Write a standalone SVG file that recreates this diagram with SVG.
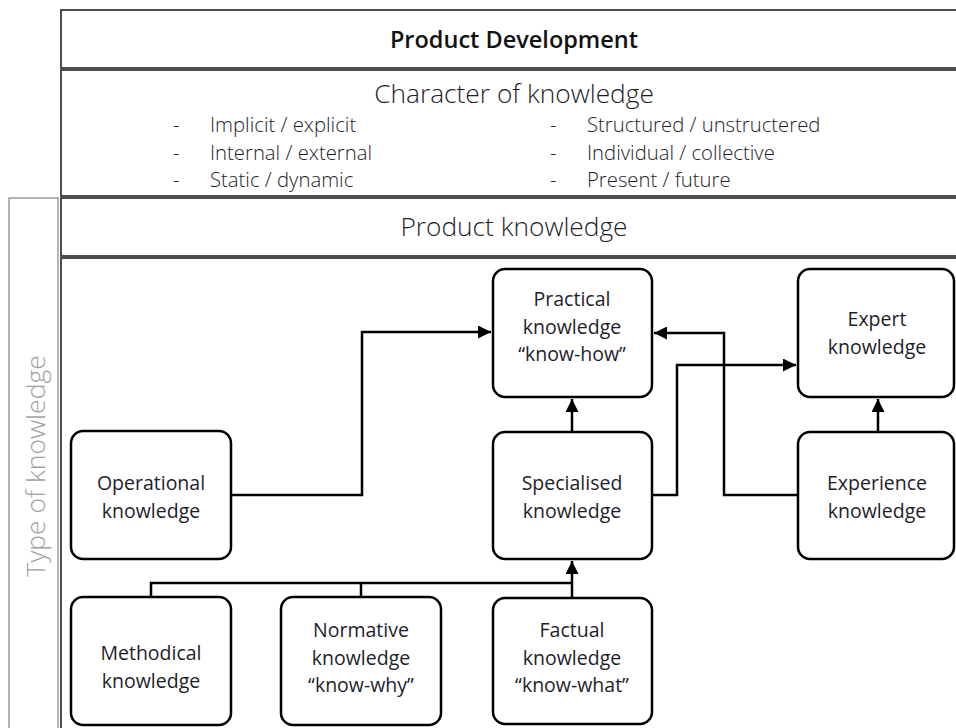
<svg xmlns="http://www.w3.org/2000/svg" width="956" height="728" viewBox="0 0 956 728">
<style>
.panel{fill:#fff;stroke:#3a3a3a;stroke-width:1.8}
.side{fill:#fff;stroke:#9a9a9a;stroke-width:1.5}
.node rect{fill:#fff;stroke:#000;stroke-width:2.5}
.t{font-family:"Open Sans","Liberation Sans",sans-serif;font-weight:300;fill:#1e1e2a}
.n{font-size:19.5px;font-weight:400;text-anchor:middle}
.c{font-size:20.3px}
.conn path{fill:none;stroke:#000;stroke-width:2.5}
</style>
<defs>
<marker id="ah" viewBox="0 0 10 10" refX="10" refY="5" markerWidth="5.2" markerHeight="5.2" markerUnits="strokeWidth" orient="auto">
<path d="M0,0 L10,5 L0,10 Z" fill="#000"/>
</marker>
</defs>
<rect width="956" height="728" fill="#fff"/>

<g id="header">
<rect class="panel" x="61" y="10" width="905" height="58"/>
<text class="t" x="514" y="48" font-size="23.5" text-anchor="middle" style="font-weight:600;fill:#111">Product Development</text>
</g>

<g id="character">
<rect class="panel" x="61" y="70" width="905" height="126"/>
<text class="t" x="514" y="103" font-size="26.3" text-anchor="middle">Character of knowledge</text>
<g class="t c">
<text x="173" y="132">-</text><text x="210" y="132">Implicit / explicit</text>
<text x="173" y="160">-</text><text x="210" y="160">Internal / external</text>
<text x="173" y="187">-</text><text x="210" y="187">Static / dynamic</text>
<text x="550" y="132">-</text><text x="587" y="132">Structured / unstructered</text>
<text x="550" y="160">-</text><text x="587" y="160">Individual / collective</text>
<text x="550" y="187">-</text><text x="587" y="187">Present / future</text>
</g>
</g>

<g id="type-of-knowledge">
<rect class="side" x="9" y="198" width="49" height="540"/>
<text class="t" transform="translate(45,466) rotate(-90)" font-size="26.5" text-anchor="middle" style="fill:#a0a0a0">Type of knowledge</text>
</g>

<g id="product-knowledge">
<rect class="panel" x="61" y="198" width="905" height="58"/>
<text class="t" x="514" y="236" font-size="26.3" text-anchor="middle">Product knowledge</text>
</g>

<g id="content-panel">
<rect class="panel" x="61" y="258" width="905" height="480"/>
</g>

<g id="connectors" class="conn">
<path d="M231,495 H362 V332 H491" marker-end="url(#ah)"/>
<path d="M572,432 V399" marker-end="url(#ah)"/>
<path d="M652,495 H677 V365 H796" marker-end="url(#ah)"/>
<path d="M798,495 H724 V333 H654" marker-end="url(#ah)"/>
<path d="M878,432 V399" marker-end="url(#ah)"/>
<path d="M151,597 V583 H572"/>
<path d="M361,597 V583"/>
<path d="M572,598 V561" marker-end="url(#ah)"/>
</g>

<g id="practical" class="node">
<rect x="493" y="269" width="159" height="128" rx="12"/>
<text class="t n" x="572" y="306">Practical</text>
<text class="t n" x="572" y="334">knowledge</text>
<text class="t n" x="572" y="361">“know-how”</text>
</g>
<g id="expert" class="node">
<rect x="798" y="269" width="156" height="128" rx="12"/>
<text class="t n" x="877" y="326">Expert</text>
<text class="t n" x="877" y="354">knowledge</text>
</g>
<g id="operational" class="node">
<rect x="71" y="431" width="160" height="128" rx="12"/>
<text class="t n" x="151" y="490">Operational</text>
<text class="t n" x="151" y="518">knowledge</text>
</g>
<g id="specialised" class="node">
<rect x="493" y="432" width="159" height="127" rx="12"/>
<text class="t n" x="572" y="490">Specialised</text>
<text class="t n" x="572" y="518">knowledge</text>
</g>
<g id="experience" class="node">
<rect x="798" y="432" width="156" height="127" rx="12"/>
<text class="t n" x="877" y="490">Experience</text>
<text class="t n" x="877" y="518">knowledge</text>
</g>
<g id="methodical" class="node">
<rect x="71" y="597" width="160" height="128" rx="12"/>
<text class="t n" x="151" y="660">Methodical</text>
<text class="t n" x="151" y="688">knowledge</text>
</g>
<g id="normative" class="node">
<rect x="281" y="597" width="160" height="128" rx="12"/>
<text class="t n" x="361" y="637">Normative</text>
<text class="t n" x="361" y="665">knowledge</text>
<text class="t n" x="361" y="692">“know-why”</text>
</g>
<g id="factual" class="node">
<rect x="493" y="598" width="159" height="126" rx="12"/>
<text class="t n" x="572" y="637">Factual</text>
<text class="t n" x="572" y="665">knowledge</text>
<text class="t n" x="572" y="692">“know-what”</text>
</g>
</svg>
